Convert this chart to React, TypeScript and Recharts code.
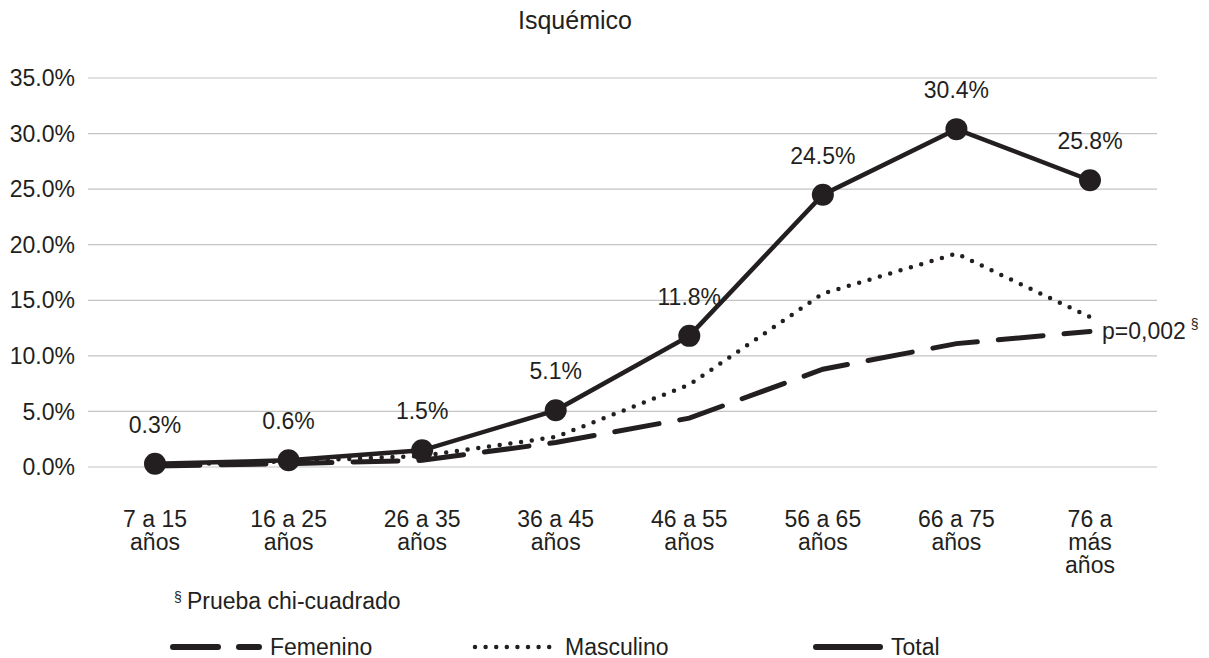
import { LineChart, Line, XAxis, YAxis, CartesianGrid, LabelList } from 'recharts'

const categories = [
  '7 a 15\naños', '16 a 25\naños', '26 a 35\naños', '36 a 45\naños',
  '46 a 55\naños', '56 a 65\naños', '66 a 75\naños', '76 a\nmás\naños',
]
const femenino = [0.1, 0.3, 0.6, 2.2, 4.4, 8.8, 11.1, 12.2]
const masculino = [0.2, 0.5, 1.0, 2.7, 7.4, 15.6, 19.2, 13.5]
const total = [0.3, 0.6, 1.5, 5.1, 11.8, 24.5, 30.4, 25.8]
const yTicks = [0, 5, 10, 15, 20, 25, 30, 35]

const INK = '#231f20'
const FONT = '"Liberation Sans", Arial, sans-serif'

const data = categories.map((cat, i) => ({
  cat,
  femenino: femenino[i],
  masculino: masculino[i],
  total: total[i],
}))

/* eslint-disable @typescript-eslint/no-explicit-any */
function XTick({ x, y, payload }: any) {
  const lines = String(payload.value).split('\n')
  return (
    <text x={x} y={y + 52} textAnchor="middle" fill={INK} fontSize={23} fontFamily={FONT}>
      {lines.map((l, i) => (
        <tspan key={i} x={x} dy={i === 0 ? 0 : 23}>{l}</tspan>
      ))}
    </text>
  )
}

function PLabel({ x, y, index }: any) {
  if (index !== femenino.length - 1) return null
  return (
    <text x={x + 12} y={y + 8} fill={INK} fontSize={23} fontFamily={FONT}>
      p=0,002
      <tspan dx={5} dy={-10} fontSize={14}>§</tspan>
    </text>
  )
}

const legendItems = [
  { name: 'Femenino', x: 170, w: 92, dash: '45 21' },
  { name: 'Masculino', x: 472, w: 85, dash: '0 10.6' },
  { name: 'Total', x: 813, w: 70, dash: undefined },
]

export default function App() {
  return (
    <div style={{ position: 'absolute', left: 0, top: 0, width: 1209, height: 658, background: '#fff', fontFamily: FONT }}>
      <div style={{ position: 'absolute', left: 475, top: 6, width: 200, textAlign: 'center', fontSize: 25, color: INK }}>
        Isquémico
      </div>
      <LineChart width={1209} height={658} data={data}
                 margin={{ top: 78, right: 52, bottom: 111, left: 0 }}>
        <CartesianGrid stroke="#c4c4c4" strokeWidth={1.2} vertical={false} />
        <XAxis dataKey="cat" interval={0} axisLine={false} tickLine={false}
               padding={{ left: 67, right: 67 }}
               height={80} tick={<XTick />} />
        <YAxis type="number" domain={[0, 35]} ticks={yTicks} width={88}
               axisLine={false} tickLine={false} tickMargin={7}
               tickFormatter={(v: number) => `${v.toFixed(1)}%`}
               tick={{ fill: INK, fontSize: 23, fontFamily: FONT }} />
        <Line dataKey="femenino" stroke={INK} strokeWidth={5} strokeDasharray="45 21"
              strokeLinecap="round" dot={false} activeDot={false} isAnimationActive={false}>
          <LabelList dataKey="femenino" content={<PLabel />} />
        </Line>
        <Line dataKey="masculino" stroke={INK} strokeWidth={4.5} strokeDasharray="0 10.8"
              strokeLinecap="round" dot={false} activeDot={false} isAnimationActive={false} />
        <Line dataKey="total" stroke={INK} strokeWidth={4.5}
              dot={{ r: 11, fill: INK, stroke: INK, strokeWidth: 0 }}
              activeDot={false} isAnimationActive={false}>
          <LabelList dataKey="total" position="top" offset={31}
                     formatter={(v: number) => `${v.toFixed(1)}%`}
                     style={{ fill: INK, fontSize: 23, fontFamily: FONT }} />
        </Line>
      </LineChart>
      <svg width={1209} height={80} style={{ position: 'absolute', left: 0, top: 578 }}>
        <text x={174} y={24} fontSize={14} fill={INK} fontFamily={FONT}>§</text>
        <text x={187} y={31} fontSize={23} fill={INK} fontFamily={FONT}>Prueba chi-cuadrado</text>
        {legendItems.map((it) => (
          <g key={it.name}>
            <line x1={it.x + 3} x2={it.x + it.w - 3} y1={69} y2={69} stroke={INK}
                  strokeWidth={it.dash === '0 10.6' ? 4.5 : 6} strokeDasharray={it.dash}
                  strokeLinecap="round" />
            <text x={it.x + it.w + 8} y={77} fontSize={23} fill={INK} fontFamily={FONT}>{it.name}</text>
          </g>
        ))}
      </svg>
    </div>
  )
}
